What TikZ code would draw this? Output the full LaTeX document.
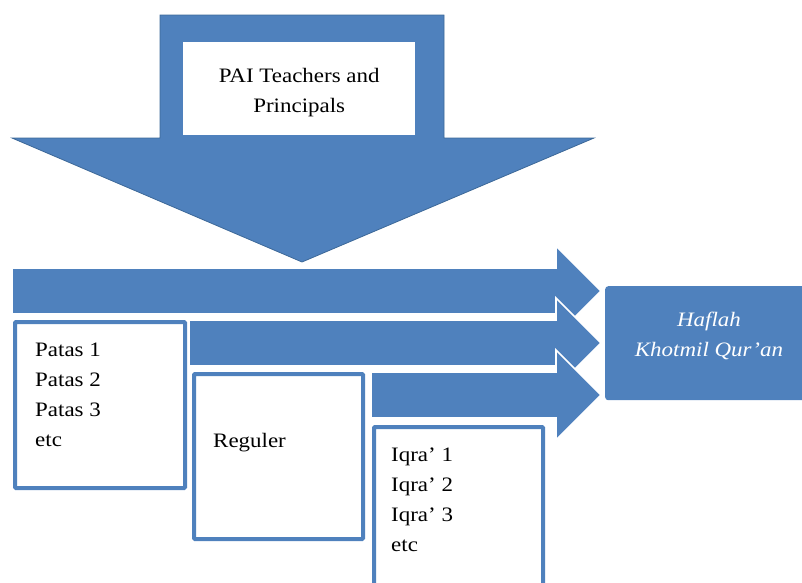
\documentclass[tikz,border=0pt]{standalone}
\usepackage{fontspec}
\setmainfont{Liberation Serif}[FakeStretch=1.12]
\definecolor{ofblue}{HTML}{4F81BD}
\definecolor{ofedge}{HTML}{3C6898}
\tikzset{
  bigarrow/.style={fill=ofblue, draw=white, line width=1.6pt, line join=miter},
  downarrow/.style={fill=ofblue, draw=ofedge, line width=0.8pt, line join=miter},
  listbox/.style={draw=ofblue, fill=white, line width=4pt, rounded corners=1pt, anchor=north west, inner sep=0pt},
  boxtext/.style={anchor=north west, align=left, inner sep=0pt, font=\fontsize{20.5}{30}\selectfont},
}
\begin{document}
\begin{tikzpicture}[x=1pt,y=-1pt]
\useasboundingbox (0,0) rectangle (802,582);
\clip (0,0) rectangle (802,582);
% down arrow
\draw[downarrow] (160,15) -- (444,15) -- (444,138) -- (594,138) -- (302,262) -- (12,138) -- (160,138) -- cycle;
\node[fill=white, minimum width=232pt, minimum height=93pt, anchor=north west, inner sep=0pt] (top) at (183,42) {};
\node[align=center, font=\fontsize{20.5}{30}\selectfont] (toptext) at ([yshift=-4pt]top.center) {PAI Teachers and\\Principals};
% horizontal arrows
\draw[bigarrow] (12,268) -- (556,268) -- (556,246) -- (601,291) -- (556,336) -- (556,314) -- (12,314) -- cycle;
\draw[bigarrow] (189,320) -- (556,320) -- (556,298) -- (601,343) -- (556,388) -- (556,366) -- (189,366) -- cycle;
\draw[bigarrow] (371,372) -- (556,372) -- (556,350) -- (601,395) -- (556,440) -- (556,418) -- (371,418) -- cycle;
% boxes
\node[listbox, minimum width=170pt, minimum height=166pt] (patas) at (13,320) {};
\node[boxtext] (patastext) at (35,343) {Patas 1\\Patas 2\\Patas 3\\etc};
\node[listbox, minimum width=169pt, minimum height=165pt] (reg) at (192,372) {};
\node[boxtext] (regtext) at (213,433) {Reguler};
\node[listbox, minimum width=169pt, minimum height=180pt] (iqra) at (372,425) {};
\node[boxtext] (iqratext) at (391,448) {Iqra’ 1\\Iqra’ 2\\Iqra’ 3\\etc};
% result box
\node[fill=ofblue, rounded corners=3pt, minimum width=210pt, minimum height=114pt, anchor=north west, inner sep=0pt] (haflah) at (605,286) {};
\node[align=center, text=white, font=\fontsize{20.5}{30}\selectfont\itshape] (haflahtext) at (709,336) {Haflah\\Khotmil Qur’an};
\end{tikzpicture}
\end{document}
